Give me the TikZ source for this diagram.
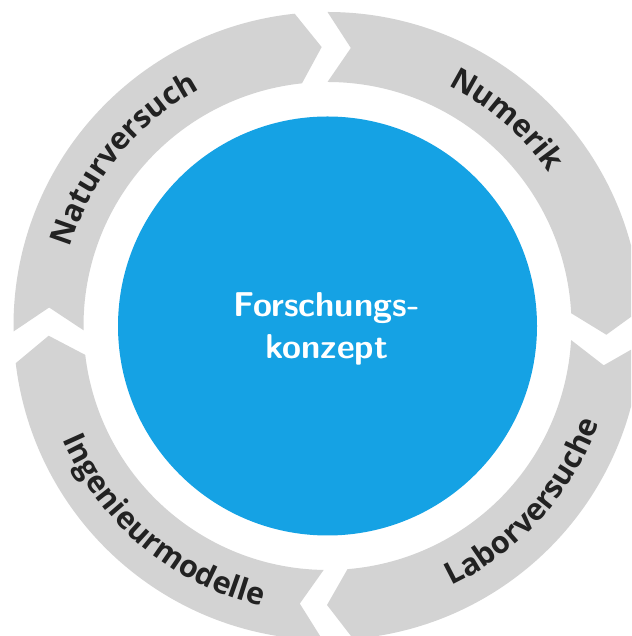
\documentclass[tikz,border=0pt]{standalone}
\usepackage{fontspec}
\newfontfamily\labelfont{Open Sans}
\usetikzlibrary{decorations.text}
\definecolor{ringgray}{RGB}{211,211,211}
\definecolor{coreblue}{RGB}{21,162,228}
\definecolor{labeldark}{RGB}{34,34,34}
\newcommand\ringseg[2]{%
  \fill[ringgray] (#1:314pt) arc[start angle=#1, end angle=#2, radius=314pt]
    -- ({#2-4.8}:279pt) -- (#2:244pt)
    arc[start angle=#2, end angle=#1, radius=244pt]
    -- ({#1-4.8}:279pt) -- cycle;}
\newcommand\toplabel[2]{%
  \path[decorate, decoration={text along path, text align=center,
    text={|\labelfont\bfseries\fontsize{30.5}{31}\selectfont\color{labeldark}|#2}}]
    ({#1+70}:269pt) arc[start angle={#1+70}, end angle={#1-70}, radius=269pt];}
\newcommand\bottomlabel[2]{%
  \path[decorate, decoration={text along path, text align=center,
    text={|\labelfont\bfseries\fontsize{30.5}{31}\selectfont\color{labeldark}|#2}}]
    ({#1-70}:288pt) arc[start angle={#1-70}, end angle={#1+70}, radius=288pt];}
\begin{document}
\begin{tikzpicture}[x=1pt,y=1pt]
\useasboundingbox (0,0) rectangle (631,636);
\clip (0,0) rectangle (631,636);
\begin{scope}[shift={(327.5,310)}]
  \ringseg{181}{96}
  \ringseg{90}{3}
  \ringseg{-3.3}{-85.3}
  \ringseg{-90.9}{-173.2}
  \fill[coreblue] (0,0) circle[radius=209.5pt];
  \node[text=white, font=\sffamily\bfseries\fontsize{34.5}{42}\selectfont, align=center] (core) at (-1,-3) {Forschungs-\\konzept};
  \toplabel{140.7}{Naturversuch}
  \toplabel{49}{Numerik}
  \bottomlabel{-42}{Laborversuche}
  \bottomlabel{230}{Ingenieurmodelle}
\end{scope}
\end{tikzpicture}
\end{document}
